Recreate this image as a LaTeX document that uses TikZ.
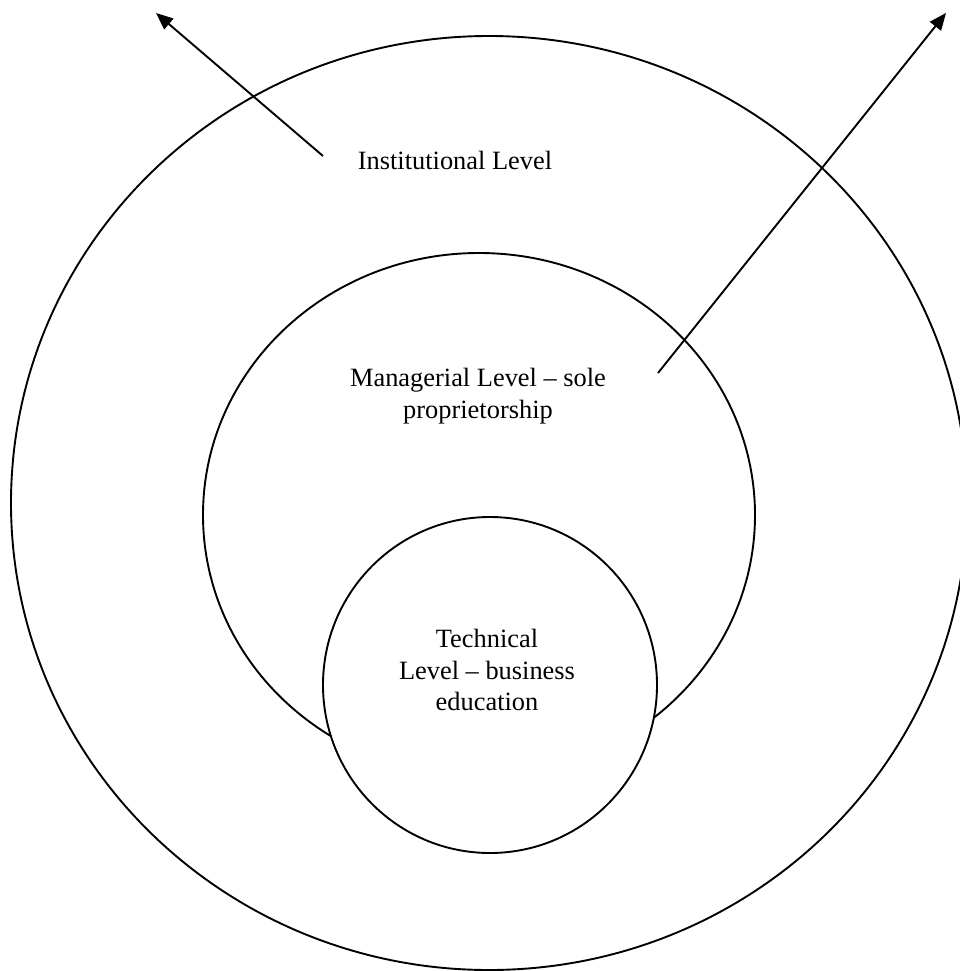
\documentclass[tikz,border=0pt]{standalone}
\usepackage{fontspec}
\setmainfont{Liberation Serif}
\usetikzlibrary{shapes.geometric,arrows.meta}

\tikzset{
  ring/.style={ellipse, draw=black, line width=1.9pt, inner sep=0pt},
  levellabel/.style={align=center, font=\fontsize{26.4}{31.5}\selectfont, inner sep=0pt},
  outarrow/.style={line width=1.9pt, -{Triangle[length=17pt,width=14pt]}}
}

\begin{document}
\begin{tikzpicture}[x=1pt,y=-1pt]
  \useasboundingbox (0,0) rectangle (959,971);
  \fill[white] (0,0) rectangle (959,971);

  % nested levels
  \node[ring, minimum width=956pt, minimum height=934pt] (outer) at (489,503) {};
  \node[ring, minimum width=552pt, minimum height=524pt] (middle) at (479,515) {};
  \node[ring, fill=white, minimum width=334pt, minimum height=336pt] (inner) at (490,685) {};

  % labels
  \node[levellabel] (inst) at (455,160) {Institutional Level};
  \node[levellabel] (mgr) at (478,396) {Managerial Level -- sole\\proprietorship};
  \node[levellabel] (tech) at (487,670) {Technical\\Level -- business\\education};

  % outward arrows
  \coordinate (a1s) at (323,156);
  \coordinate (a1e) at (156,13);
  \coordinate (a2s) at (658,373);
  \coordinate (a2e) at (946,13);
  \draw[outarrow] (a1s) -- (a1e);
  \draw[outarrow] (a2s) -- (a2e);
\end{tikzpicture}
\end{document}
